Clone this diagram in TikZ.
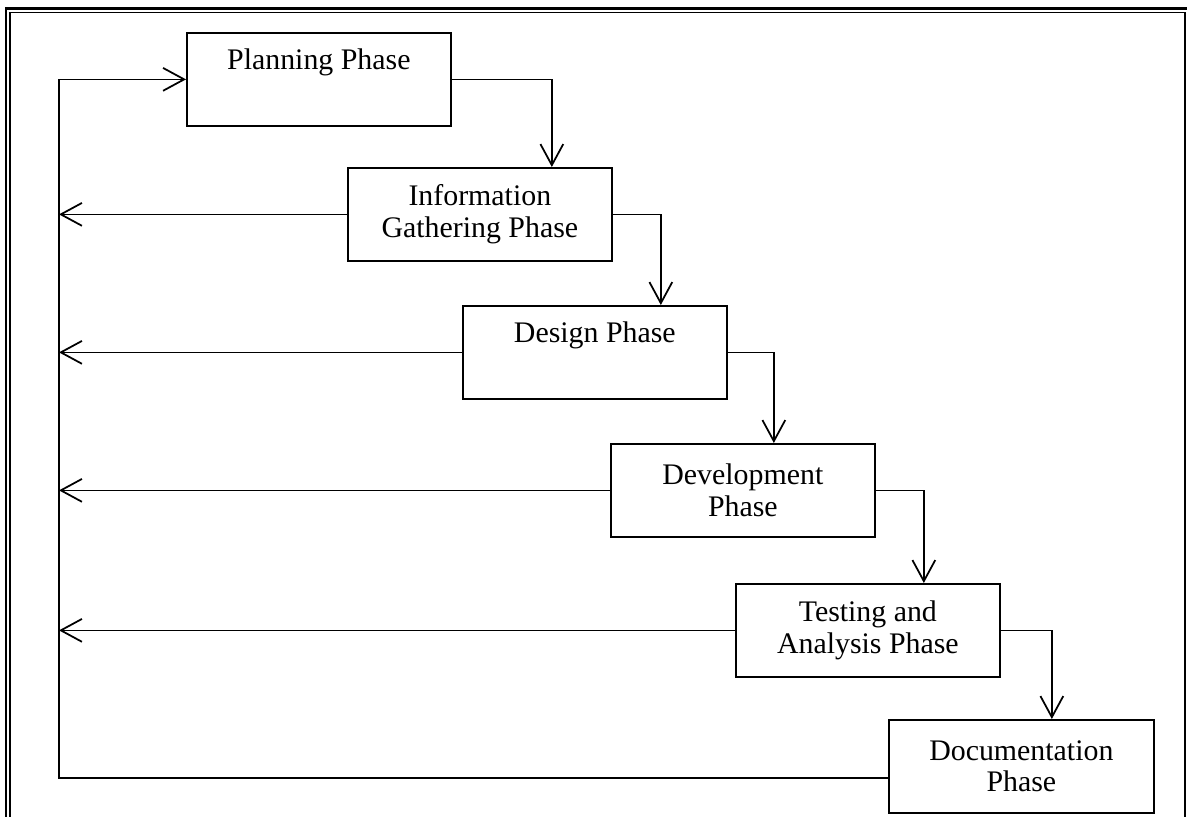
\documentclass[tikz,border=0pt]{standalone}
\usepackage{fontspec}
\setmainfont{Liberation Serif}
\usetikzlibrary{arrows.meta}

\begin{document}
\begin{tikzpicture}[x=0.02cm, y=-0.02cm,
    phase/.style={draw, line width=1pt, anchor=north west, align=center,
      minimum width=5.28cm, minimum height=1.86cm, inner sep=0pt,
      font=\fontsize{17}{18}\selectfont},
    flow/.style={line width=0.85pt, -{Straight Barb[length=12pt, width=13pt, line width=1pt]}}]
    \useasboundingbox (0,0) rectangle (1187,817);
    \clip (0,0) rectangle (1187,817);

    % Double frame
    \draw[line width=1.7pt] (6,8.5) rectangle (1195,830);
    \draw[line width=0.7pt] (10,12.5) rectangle (1185,830);

    % Phases
    \node[phase] (plan)   at (186,32)  {Planning Phase\\\strut};
    \node[phase] (info)   at (347,167) {Information\\Gathering Phase};
    \node[phase] (design) at (462,305) {Design Phase\\\strut};
    \node[phase] (dev)    at (610,443) {Development\\Phase};
    \node[phase] (test)   at (735,583) {Testing and\\Analysis Phase};
    \node[phase, minimum width=5.3cm] (doc) at (888,719) {Documentation\\Phase};

    % Return line on the left
    \coordinate (rail) at (59,0);

    % Forward connectors
    \draw[flow] (plan.east)   -| ([xshift=1.44cm]info.north);
    \draw[flow] (info.east)   -| ([xshift=1.32cm]design.north);
    \draw[flow] (design.east) -| ([xshift=0.62cm]dev.north);
    \draw[flow] (dev.east)    -| ([xshift=1.12cm]test.north);
    \draw[flow] (test.east)   -| ([xshift=0.61cm]doc.north);

    % Feedback connectors
    \draw[flow] ([yshift=-0.23cm]doc.west) -| (rail |- plan.west) -- (plan.west);
    \draw[flow] (info.west)   -- (rail |- info.west);
    \draw[flow] (design.west) -- (rail |- design.west);
    \draw[flow] (dev.west)    -- (rail |- dev.west);
    \draw[flow] (test.west)   -- (rail |- test.west);
  \end{tikzpicture}
\end{document}
